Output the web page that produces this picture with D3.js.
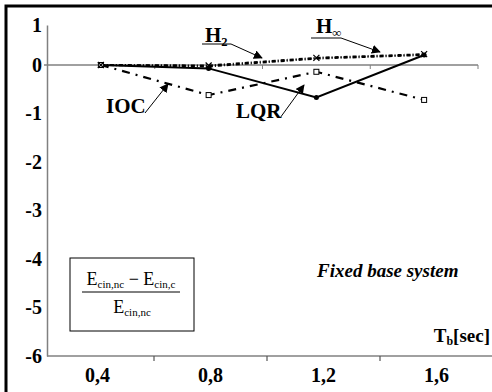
<!DOCTYPE html>
<html>
<head>
<meta charset="utf-8">
<script src="https://cdn.jsdelivr.net/npm/d3@7"></script>
<style>
  body { margin: 0; background: #fff; }
</style>
</head>
<body>
<div id="chart"></div>
<script>
// Base period categories (Tb, sec)
const periods = ['0,4', '0,8', '1,2', '1,6']

// Normalized kinetic energy reduction per controller
const lqr = [0, -0.07, -0.67, 0.25]
const ioc = [0, -0.62, -0.14, -0.72]
const h2 = [0, -0.03, 0.16, 0.25]
const hInf = [0, -0.01, 0.18, 0.27]

const yTicks = [1, 0, -1, -2, -3, -4, -5, -6]

const width = 492
const height = 392
const serif = "'Liberation Serif', 'Times New Roman', serif"

const svg = d3.select('#chart')
  .append('svg')
  .attr('width', width)
  .attr('height', height)

// Outer frame (open on right and bottom, as in the cropped original)
svg.append('rect')
  .attr('x', 6)
  .attr('y', 6)
  .attr('width', 520)
  .attr('height', 420)
  .attr('fill', 'none')
  .attr('stroke', '#000')
  .attr('stroke-width', 3)

// Scales
const x = d3.scaleBand()
  .domain(periods)
  .range([47, 478])

// bottom axis in the scan sits a bit wider than the plot
const xBottom = x.copy().range([41, 493])

const y = d3.scaleLinear()
  .domain([-6, 0, 1])
  .range([356, 65, 25])

const cx = d => x(d) + x.bandwidth() / 2

// Y axis
const yAxis = svg.append('g')
  .attr('transform', 'translate(47,0)')
  .call(d3.axisLeft(y).tickValues(yTicks).tickSize(0).tickPadding(5).tickFormat(d3.format('d')))
yAxis.select('.domain').attr('stroke', '#808080').attr('stroke-width', 1.5)
yAxis.selectAll('text')
  .style('font-family', serif)
  .attr('font-weight', 'bold')
  .attr('font-size', 20)
  .attr('fill', '#000')
  .text(d => d < 0 ? '-' + Math.abs(d) : d)

// Bottom axis
const xAxis = svg.append('g')
  .attr('transform', `translate(0,${y(-6)})`)
  .call(d3.axisBottom(xBottom).tickSize(0).tickPadding(12))
xAxis.select('.domain').remove()
xAxis.append('line')
  .attr('x1', 47).attr('x2', width)
  .attr('stroke', '#808080').attr('stroke-width', 1.5)
xAxis.selectAll('.tickmark')
  .data(periods.slice(1))
  .join('line')
  .attr('x1', d => xBottom(d)).attr('x2', d => xBottom(d))
  .attr('y1', 0).attr('y2', 5)
  .attr('stroke', '#555').attr('stroke-width', 1.2)
xAxis.selectAll('text')
  .style('font-family', serif)
  .attr('font-weight', 'bold')
  .attr('font-size', 20)
  .attr('fill', '#000')

// Zero line with category ticks
const zero = svg.append('g')
  .attr('transform', `translate(0,${y(0)})`)
zero.append('line')
  .attr('x1', 44).attr('x2', 478)
  .attr('stroke', '#808080').attr('stroke-width', 1.5)
zero.selectAll('.zt')
  .data(periods)
  .join('line')
  .attr('x1', d => x(d) + x.bandwidth()).attr('x2', d => x(d) + x.bandwidth())
  .attr('y1', 0).attr('y2', 4)
  .attr('stroke', '#808080').attr('stroke-width', 1)

// Series
const line = d3.line()
  .x((d, i) => cx(periods[i]))
  .y(d => y(d))

const series = [
  { name: 'H2', values: h2, dash: '4,2,1,2', width: 2 },
  { name: 'Hinf', values: hInf, dash: '4,2,1,2', width: 2 },
  { name: 'IOC', values: ioc, dash: '8,6,2,6', width: 2.2 },
  { name: 'LQR', values: lqr, dash: null, width: 2 }
]

series.forEach(s => {
  svg.append('path')
    .datum(s.values)
    .attr('d', line)
    .attr('fill', 'none')
    .attr('stroke', '#000')
    .attr('stroke-width', s.width)
    .attr('stroke-dasharray', s.dash)
})

// Markers
svg.selectAll('.lqr-pt')
  .data(lqr)
  .join('circle')
  .attr('cx', (d, i) => cx(periods[i]))
  .attr('cy', d => y(d))
  .attr('r', 2.5)
  .attr('fill', '#000')

svg.selectAll('.ioc-pt')
  .data(ioc)
  .join('rect')
  .attr('x', (d, i) => cx(periods[i]) - 2.5)
  .attr('y', d => y(d) - 2.5)
  .attr('width', 5)
  .attr('height', 5)
  .attr('fill', '#fff')
  .attr('stroke', '#000')
  .attr('stroke-width', 1)

svg.selectAll('.h-pt')
  .data(hInf)
  .join('path')
  .attr('d', (d, i) => {
    const px = cx(periods[i]), py = y(d)
    return `M${px - 3},${py - 3}L${px + 3},${py + 3}M${px - 3},${py + 3}L${px + 3},${py - 3}`
  })
  .attr('stroke', '#000')
  .attr('stroke-width', 1.2)

// Arrow marker
svg.append('defs').append('marker')
  .attr('id', 'arrow')
  .attr('viewBox', '0 0 10 10')
  .attr('refX', 9).attr('refY', 5)
  .attr('markerWidth', 9).attr('markerHeight', 9)
  .attr('markerUnits', 'userSpaceOnUse')
  .attr('orient', 'auto')
  .append('path')
  .attr('d', 'M0,0L10,5L0,10Z')
  .attr('fill', '#000')

// Leader labels
function leader(x1, y1, x2, y2) {
  svg.append('line')
    .attr('x1', x1).attr('y1', y1)
    .attr('x2', x2).attr('y2', y2)
    .attr('stroke', '#000').attr('stroke-width', 1)
    .attr('marker-end', 'url(#arrow)')
}

function boldLabel(tx, ty, main, sub, size) {
  const t = svg.append('text')
    .attr('x', tx).attr('y', ty)
    .style('font-family', serif)
    .attr('font-weight', 'bold')
    .attr('font-size', size)
  t.append('tspan').text(main)
  if (sub) {
    t.append('tspan')
      .attr('font-size', size * 0.6)
      .attr('dy', 4)
      .text(sub)
  }
  return t
}

// H2
boldLabel(205, 42, 'H', '2', 21)
svg.append('line').attr('x1', 202).attr('x2', 231).attr('y1', 44).attr('y2', 44)
  .attr('stroke', '#000').attr('stroke-width', 1)
leader(231, 44, 262, 58)

// H-infinity
boldLabel(316, 33, 'H', '∞', 21)
svg.append('line').attr('x1', 311).attr('x2', 341).attr('y1', 38).attr('y2', 38)
  .attr('stroke', '#000').attr('stroke-width', 1)
leader(341, 38, 380, 52)

// IOC
boldLabel(106, 113, 'IOC', null, 21)
leader(145, 113, 168, 84)

// LQR
boldLabel(236, 118, 'LQR', null, 21)
leader(280, 118, 304, 85)

// Caption
svg.append('text')
  .attr('x', 317).attr('y', 277)
  .style('font-family', serif)
  .attr('font-weight', 'bold')
  .attr('font-style', 'italic')
  .attr('font-size', 19)
  .text('Fixed base system')

// Axis title
const tb = svg.append('text')
  .attr('x', 490).attr('y', 342)
  .attr('text-anchor', 'end')
  .style('font-family', serif)
  .attr('font-weight', 'bold')
  .attr('font-size', 19)
tb.append('tspan').text('T')
tb.append('tspan').attr('font-size', 12).attr('dy', 3).text('b')
tb.append('tspan').attr('dy', -3).text('[sec]')

// Formula box
svg.append('rect')
  .attr('x', 70).attr('y', 258)
  .attr('width', 124).attr('height', 73)
  .attr('fill', '#fff')
  .attr('stroke', '#000')
  .attr('stroke-width', 1)

const num = svg.append('text')
  .attr('x', 131).attr('y', 285)
  .attr('text-anchor', 'middle')
  .style('font-family', serif)
  .attr('font-size', 18)
num.append('tspan').text('E')
num.append('tspan').attr('font-size', 11).attr('dy', 3).text('cin,nc')
num.append('tspan').attr('dy', -3).text(' − E')
num.append('tspan').attr('font-size', 11).attr('dy', 3).text('cin,c')

svg.append('line')
  .attr('x1', 82).attr('x2', 180)
  .attr('y1', 292).attr('y2', 292)
  .attr('stroke', '#000').attr('stroke-width', 1)

const den = svg.append('text')
  .attr('x', 132).attr('y', 313)
  .attr('text-anchor', 'middle')
  .style('font-family', serif)
  .attr('font-size', 18)
den.append('tspan').text('E')
den.append('tspan').attr('font-size', 11).attr('dy', 3).text('cin,nc')
</script>
</body>
</html>
